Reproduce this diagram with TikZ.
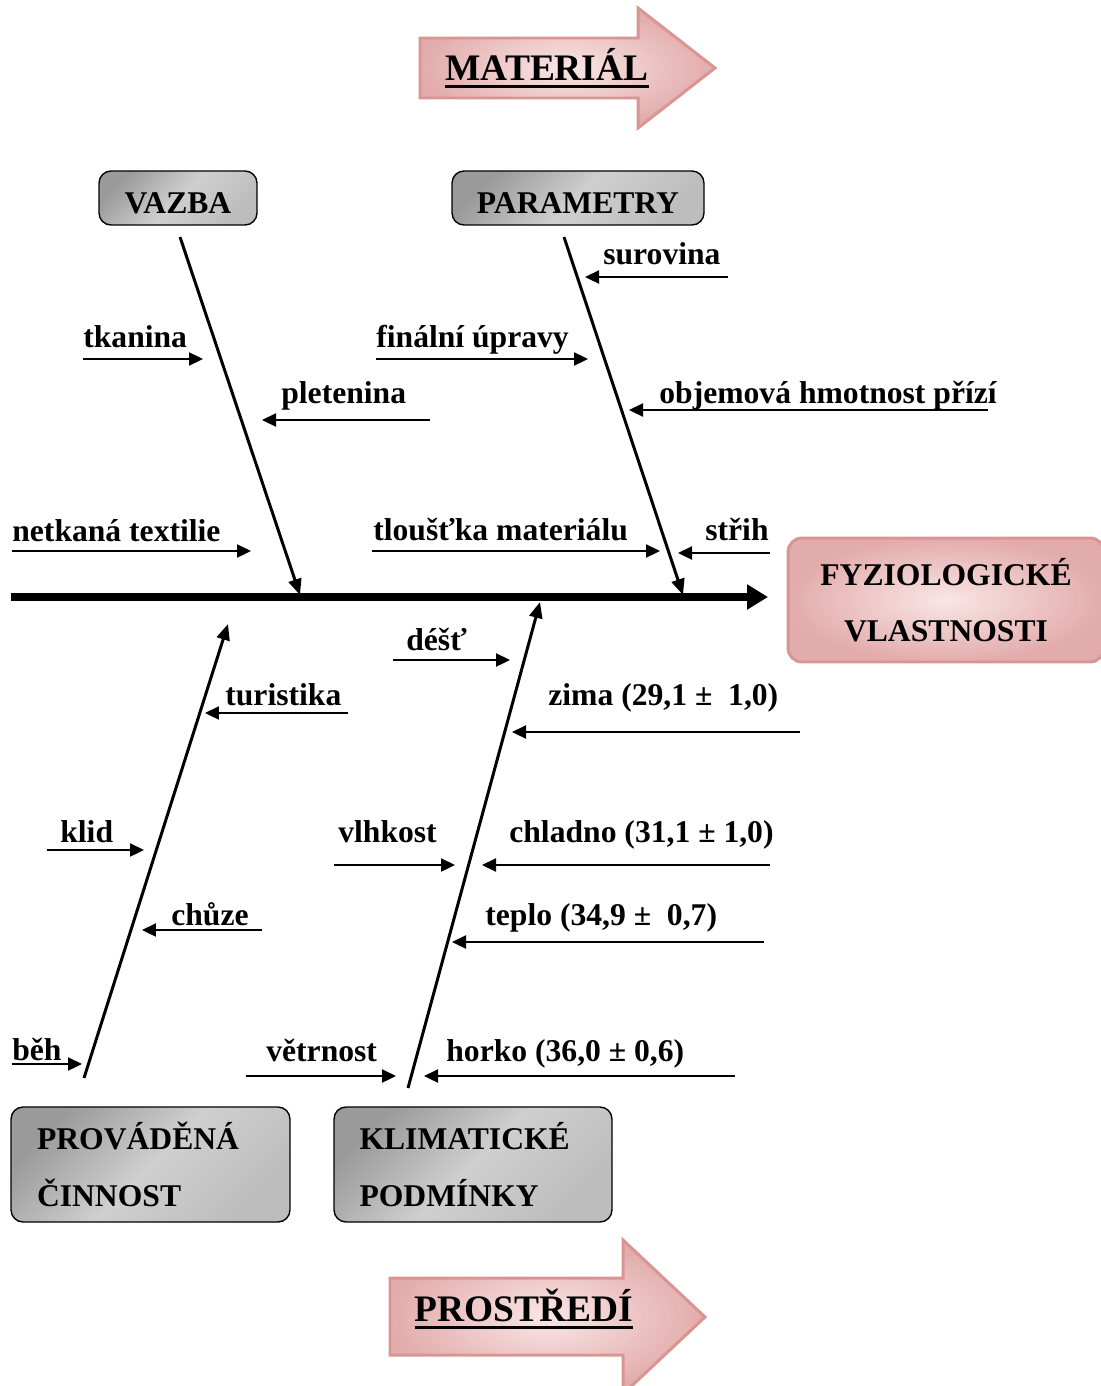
\documentclass[tikz,border=0pt]{standalone}
\usepackage{fontspec}
\setmainfont{Liberation Serif}
\usetikzlibrary{arrows.meta}
\definecolor{pinkEdge}{HTML}{D99594}
\definecolor{pinkLight}{HTML}{FAE6E6}
\definecolor{pinkDark}{HTML}{E2ACAB}
\definecolor{grayDark}{HTML}{9A9A9A}
\definecolor{grayLight}{HTML}{CFCFCF}
\definecolor{grayMid}{HTML}{BDBDBD}
\newcommand{\heavyul}[1]{\setbox0\hbox{#1}\rlap{\rule[-4.6pt]{\wd0}{1.7pt}}\box0}
\tikzstyle{spineArrow} = [line width=4pt, -{Triangle[length=0.42cm,width=0.48cm]}]
\tikzstyle{boneArrow} = [line width=1.7pt, -{Triangle[length=0.32cm,width=0.26cm]}]
\tikzstyle{causeArrow} = [line width=1.3pt, -{Triangle[length=0.28cm,width=0.26cm]}]
\tikzstyle{causeLabel} = [anchor=base west, inner sep=0pt, font=\fontsize{18}{22}\selectfont\bfseries]
\tikzstyle{arrowLabel} = [anchor=base, inner sep=0pt, font=\fontsize{21.3}{26}\selectfont\bfseries]
\tikzstyle{grayBox} = [draw=black, line width=0.8pt, rounded corners=0.24cm,
   top color=grayDark, bottom color=grayMid, middle color=grayLight, shading angle=45,
   font=\fontsize{18}{32}\selectfont\bfseries]
\tikzstyle{pinkBox} = [draw=pinkEdge, line width=1.7pt, rounded corners=0.28cm,
   inner color=pinkLight, outer color=pinkDark,
   font=\fontsize{18}{32}\selectfont\bfseries]
\tikzstyle{pinkShape} = [draw=pinkEdge, line width=1.7pt, inner color=pinkLight, outer color=pinkDark]

\begin{document}
\begin{tikzpicture}[x=0.02cm, y=-0.02cm]
  \useasboundingbox (0,0) rectangle (1100,1386);

  % big arrows
  \draw[pinkShape] (420,38) -- (638,38) -- (638,8) -- (715,68) -- (638,128) -- (638,98) -- (420,98) -- cycle;
  \node[arrowLabel] (material) at (547,80) {\heavyul{MATERIÁL}};
  \draw[pinkShape] (390,1278) -- (623,1278) -- (623,1240) -- (705,1317) -- (623,1394) -- (623,1355) -- (390,1355) -- cycle;
  \node[arrowLabel] (prostredi) at (524,1321) {\heavyul{PROSTŘEDÍ}};

  % boxes
  \node[grayBox, minimum width=3.16cm, minimum height=1.08cm, text height=0.6cm, text depth=0cm] (vazba) at (178,198) {VAZBA};
  \node[grayBox, minimum width=5.04cm, minimum height=1.08cm, text height=0.6cm, text depth=0cm] (parametry) at (578,198) {PARAMETRY};
  \node[pinkBox, minimum width=6.32cm, minimum height=2.48cm, align=center] (fyzio) at (946,600) {FYZIOLOGICKÉ\\VLASTNOSTI};
  \node[grayBox, minimum width=5.58cm, minimum height=2.3cm, text width=4.54cm, align=left] (cinnost) at (150.5,1164.5) {PROVÁDĚNÁ\\ČINNOST};
  \node[grayBox, minimum width=5.56cm, minimum height=2.3cm, text width=4.54cm, align=left] (klima) at (473,1164.5) {KLIMATICKÉ\\PODMÍNKY};

  % spine and bones
  \coordinate (spineTail) at (11,597);
  \coordinate (spineHead) at (768,597);
  \draw[spineArrow] (spineTail) -- (spineHead);

  \coordinate (vazbaTop) at (180,237);
  \coordinate (vazbaFoot) at (300,595);
  \coordinate (paramTop) at (564,237);
  \coordinate (paramFoot) at (683,595);
  \coordinate (cinnostFoot) at (84,1078);
  \coordinate (cinnostTop) at (228,624);
  \coordinate (klimaFoot) at (408,1088);
  \coordinate (klimaTop) at (540,602);
  \draw[boneArrow] (vazbaTop) -- (vazbaFoot);
  \draw[boneArrow] (paramTop) -- (paramFoot);
  \draw[boneArrow] (cinnostFoot) -- (cinnostTop);
  \draw[boneArrow] (klimaFoot) -- (klimaTop);

  % labels
  \node[causeLabel] (tkanina) at (83,347) {tkanina};
  \node[causeLabel] (pletenina) at (281,403) {pletenina};
  \node[causeLabel] (netkana) at (12,541) {netkaná textilie};
  \node[causeLabel] (finalni) at (376,347) {finální úpravy};
  \node[causeLabel] (surovina) at (603,264) {surovina};
  \node[causeLabel] (objemova) at (659,403) {objemová hmotnost přízí};
  \node[causeLabel] (tloustka) at (373,540) {tloušťka materiálu};
  \node[causeLabel] (strih) at (705,540) {střih};
  \node[causeLabel] (dest) at (406,650) {déšť};
  \node[causeLabel] (turistika) at (225,705) {turistika};
  \node[causeLabel] (zima) at (548,705) {zima (29,1 ±\ \ 1,0)};
  \node[causeLabel] (klid) at (60,842) {klid};
  \node[causeLabel] (vlhkost) at (338,842) {vlhkost};
  \node[causeLabel] (chladno) at (509,842) {chladno (31,1 ± 1,0)};
  \node[causeLabel] (chuze) at (171,925) {chůze};
  \node[causeLabel] (teplo) at (485,925) {teplo (34,9 ±\ \ 0,7)};
  \node[causeLabel] (beh) at (12,1060) {běh};
  \node[causeLabel] (vetrnost) at (266,1061) {větrnost};
  \node[causeLabel] (horko) at (446,1061) {horko (36,0 ± 0,6)};

  % arrow ends
  \coordinate (tkanina-a) at (83,359);    \coordinate (tkanina-b) at (203,359);
  \coordinate (pletenina-a) at (430,420); \coordinate (pletenina-b) at (262,420);
  \coordinate (netkana-a) at (12,551);    \coordinate (netkana-b) at (251,551);
  \coordinate (finalni-a) at (376,359);   \coordinate (finalni-b) at (588,359);
  \coordinate (surovina-a) at (728,277);  \coordinate (surovina-b) at (585,277);
  \coordinate (objemova-a) at (988,410);  \coordinate (objemova-b) at (629,410);
  \coordinate (tloustka-a) at (372,551);  \coordinate (tloustka-b) at (660,551);
  \coordinate (strih-a) at (770,553);     \coordinate (strih-b) at (678,553);
  \coordinate (dest-a) at (393,660);      \coordinate (dest-b) at (510,660);
  \coordinate (turistika-a) at (348,713); \coordinate (turistika-b) at (205,713);
  \coordinate (zima-a) at (800,732);      \coordinate (zima-b) at (512,732);
  \coordinate (klid-a) at (47,850);       \coordinate (klid-b) at (144,850);
  \coordinate (vlhkost-a) at (334,865);   \coordinate (vlhkost-b) at (455,865);
  \coordinate (chladno-a) at (770,865);   \coordinate (chladno-b) at (482,865);
  \coordinate (chuze-a) at (262,930);     \coordinate (chuze-b) at (142,930);
  \coordinate (teplo-a) at (764,942);     \coordinate (teplo-b) at (452,942);
  \coordinate (beh-a) at (12,1064);       \coordinate (beh-b) at (82,1064);
  \coordinate (vetrnost-a) at (246,1076); \coordinate (vetrnost-b) at (396,1076);
  \coordinate (horko-a) at (735,1076);    \coordinate (horko-b) at (424,1076);

  % arrows
  \draw[causeArrow] (tkanina-a) -- (tkanina-b);
  \draw[causeArrow] (pletenina-a) -- (pletenina-b);
  \draw[causeArrow] (netkana-a) -- (netkana-b);
  \draw[causeArrow] (finalni-a) -- (finalni-b);
  \draw[causeArrow] (surovina-a) -- (surovina-b);
  \draw[causeArrow] (objemova-a) -- (objemova-b);
  \draw[causeArrow] (tloustka-a) -- (tloustka-b);
  \draw[causeArrow] (strih-a) -- (strih-b);
  \draw[causeArrow] (dest-a) -- (dest-b);
  \draw[causeArrow] (turistika-a) -- (turistika-b);
  \draw[causeArrow] (zima-a) -- (zima-b);
  \draw[causeArrow] (klid-a) -- (klid-b);
  \draw[causeArrow] (vlhkost-a) -- (vlhkost-b);
  \draw[causeArrow] (chladno-a) -- (chladno-b);
  \draw[causeArrow] (chuze-a) -- (chuze-b);
  \draw[causeArrow] (teplo-a) -- (teplo-b);
  \draw[causeArrow] (beh-a) -- (beh-b);
  \draw[causeArrow] (vetrnost-a) -- (vetrnost-b);
  \draw[causeArrow] (horko-a) -- (horko-b);
\end{tikzpicture}
\end{document}
